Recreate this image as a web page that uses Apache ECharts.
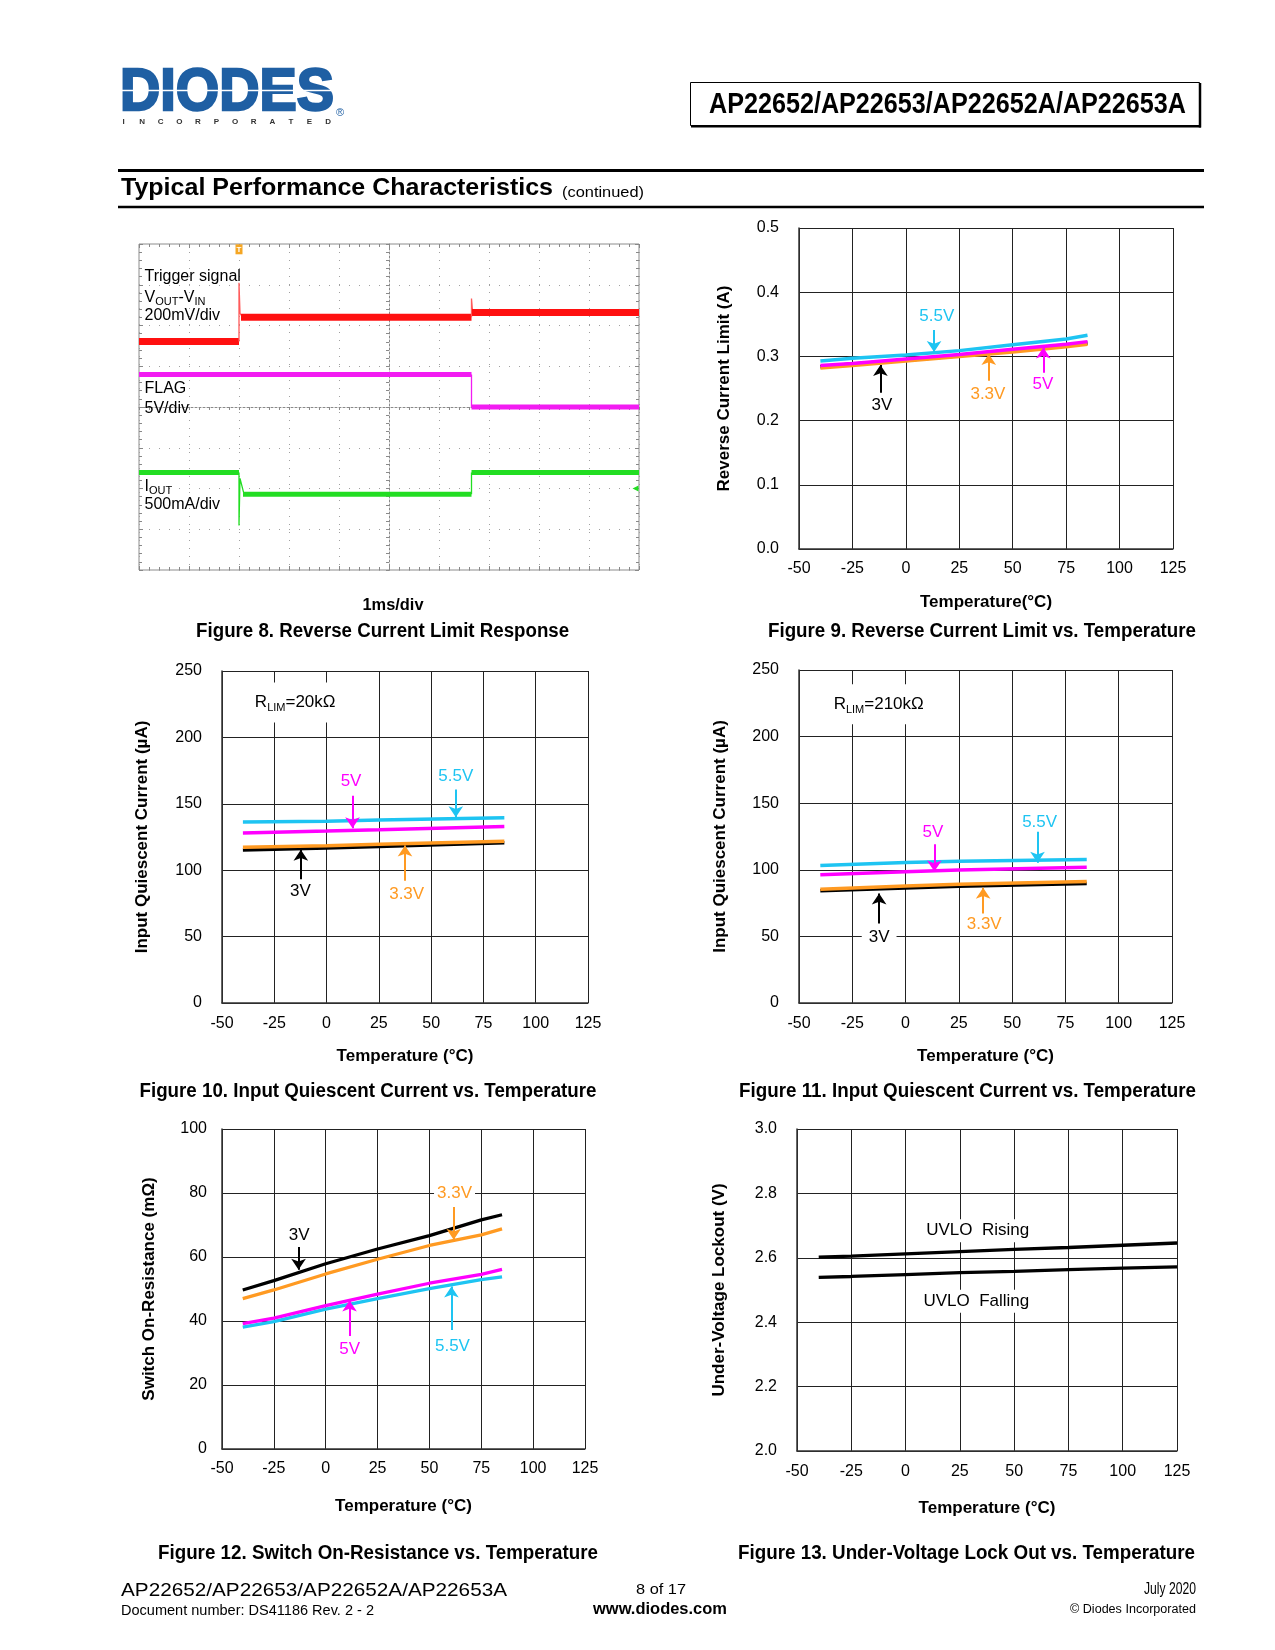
<!DOCTYPE html>
<html><head><meta charset="utf-8">
<script src="https://cdn.jsdelivr.net/npm/echarts@6/dist/echarts.min.js"></script>
<style>html,body{margin:0;padding:0;background:#fff}#c{width:1275px;height:1650px}</style>
</head><body><div id="c"></div>
<script>
// ---------------- DATA ----------------
// Figure 8 (oscilloscope, in divisions: x -5..5 = 10 x 1ms, y -4..4)
const scopeRedLevel1 = [[-5, 1.61], [-3, 1.61]];
const scopeRedEdge1  = [[-3, 1.61], [-3, 3.05], [-2.98, 2.30], [-2.94, 2.22]];
const scopeRedLevel2 = [[-2.96, 2.20], [1.65, 2.20]];
const scopeRedEdge2  = [[1.65, 2.20], [1.65, 2.66], [1.67, 2.36]];
const scopeRedLevel3 = [[1.66, 2.32], [5, 2.32]];
const scopeFlagLevel1 = [[-5, 0.80], [1.65, 0.80]];
const scopeFlagEdge   = [[1.65, 0.80], [1.65, 0.0]];
const scopeFlagLevel2 = [[1.65, 0.0], [5, 0.0]];
const scopeIoutLevel1 = [[-5, -1.61], [-3, -1.61]];
const scopeIoutEdge1  = [[-3, -1.61], [-3, -2.91], [-2.98, -1.75], [-2.90, -2.14]];
const scopeIoutLevel2 = [[-2.92, -2.14], [1.65, -2.14]];
const scopeIoutEdge2  = [[1.65, -2.14], [1.65, -1.61]];
const scopeIoutLevel3 = [[1.65, -1.61], [5, -1.61]];

// Figure 9: Reverse current limit (A)
const temps7 = [-40, -25, 0, 25, 50, 75, 85];
const fig9_3V  = [0.284, 0.288, 0.294, 0.301, 0.309, 0.317, 0.321];
const fig9_3V3 = [0.282, 0.286, 0.293, 0.300, 0.307, 0.315, 0.319];
const fig9_5V  = [0.286, 0.289, 0.296, 0.303, 0.311, 0.319, 0.323];
const fig9_5V5 = [0.293, 0.297, 0.302, 0.309, 0.318, 0.327, 0.333];

// Figure 10: Input quiescent current, RLIM = 20k (uA)
const temps4 = [-40, 0, 25, 85];
const fig10_3V  = [115.2, 116.8, 117.8, 120.7];
const fig10_3V3 = [117.2, 118.5, 119.5, 121.8];
const fig10_5V  = [128.0, 129.5, 130.5, 133.0];
const fig10_5V5 = [136.3, 136.8, 137.8, 139.5];

// Figure 11: Input quiescent current, RLIM = 210k (uA)
const fig11_3V  = [84.2, 86.4, 87.6, 89.7];
const fig11_3V3 = [85.4, 87.8, 89.2, 91.2];
const fig11_5V  = [96.2, 98.6, 99.8, 102.0];
const fig11_5V5 = [103.2, 105.5, 106.5, 107.7];

// Figure 12: Switch on-resistance (mOhm)
const fig12_3V  = [49.7, 52.6, 57.9, 62.5, 66.7, 71.6, 73.2];
const fig12_3V3 = [47.0, 49.7, 54.7, 59.3, 63.6, 66.9, 68.8];
const fig12_5V  = [39.2, 40.9, 44.8, 48.4, 51.8, 54.6, 56.1];
const fig12_5V5 = [38.1, 39.8, 43.7, 47.0, 50.1, 52.9, 53.8];

// Figure 13: UVLO (V)
const temps8 = [-40, -25, 0, 25, 50, 75, 100, 125];
const fig13_rising  = [2.602, 2.605, 2.612, 2.619, 2.626, 2.632, 2.639, 2.646];
const fig13_falling = [2.539, 2.542, 2.548, 2.554, 2.558, 2.563, 2.568, 2.572];

// Annotations: label position [temp, value], arrow [temp, from, to]
const fig9Notes = {
  v5v5: {text: '5.5V', at: [14.5, 0.362], arrow: [13.2, 0.341, 0.307]},
  v3:   {text: '3V',   at: [-11.2, 0.224], arrow: [-11.9, 0.2435, 0.2866]},
  v3v3: {text: '3.3V', at: [38.4, 0.241], arrow: [38.8, 0.262, 0.3037]},
  v5:   {text: '5V',   at: [64.1, 0.257], arrow: [64.3, 0.2746, 0.314]}
};
const fig10Notes = {
  v5:   {text: '5V',   at: [11.7, 166.6], arrow: [12.4, 156, 131.5]},
  v5v5: {text: '5.5V', at: [61.8, 171], arrow: [61.8, 160.8, 139.8]},
  v3:   {text: '3V',   at: [-12.5, 83.9], arrow: [-12.3, 93.2, 115.4]},
  v3v3: {text: '3.3V', at: [38.3, 81.9], arrow: [37.5, 92, 118.6]}
};
const fig11Notes = {
  v5:   {text: '5V',   at: [12.8, 127.8], arrow: [13.5, 119.2, 98.8]},
  v5v5: {text: '5.5V', at: [62.9, 136], arrow: [61.9, 128.5, 105.2]},
  v3:   {text: '3V',   at: [-12.4, 49.6], arrow: [-12.4, 59.6, 82.2], bg: [1, 7]},
  v3v3: {text: '3.3V', at: [36.9, 59.1], arrow: [36.4, 67.1, 86.6]}
};
const fig12Notes = {
  v3:   {text: '3V',   at: [-12.8, 66.7], arrow: [-13.1, 63.1, 56.0]},
  v3v3: {text: '3.3V', at: [62.1, 79.8], arrow: [61.7, 75.6, 65.4], bg: [1, 3]},
  v5:   {text: '5V',   at: [11.5, 31.3], arrow: [11.5, 35.3, 46.4]},
  v5v5: {text: '5.5V', at: [61.1, 32.2], arrow: [60.6, 37.2, 50.8]}
};
const fig10Rlim = {text: '{n|R}{s|LIM}{n|=20kΩ}', at: [-15, 226.2]};
const fig11Rlim = {text: '{n|R}{s|LIM}{n|=210kΩ}', at: [-12.6, 224.2]};
const fig13Notes = [
  {text: 'UVLO  Rising', at: [33.2, 2.684]},
  {text: 'UVLO  Falling', at: [32.6, 2.465]}
];

// ---------------- STYLE ----------------
const FONT = '"Liberation Sans", Arial, Helvetica, sans-serif';
const CYAN = '#1EC4F2', MAG = '#FF00FF', ORG = '#FF9A22', BLK = '#000000';
const S_RED = '#FF1010', S_MAG = '#F21CF2', S_GRN = '#22DD22';

const chart = echarts.init(document.getElementById('c'), null, {renderer: 'canvas', width: 1275, height: 1650});
const zip = (xs, ys) => xs.map((x, i) => [x, ys[i]]);

function line(ai, data, color, width, extra) {
  return Object.assign({
    type: 'line', xAxisIndex: ai, yAxisIndex: ai, data: data,
    symbol: 'none', showSymbol: false, silent: true, animation: false,
    lineStyle: {color: color, width: width}, itemStyle: {color: color}, z: 3
  }, extra || {});
}
function withNote(series, note, color) {
  if (!note) return series;
  if (note.arrow) {
    series.markLine = {
      silent: true, animation: false, symbol: ['none', 'arrow'], symbolSize: 11,
      label: {show: false}, lineStyle: {color: color, width: 2, type: 'solid'},
      data: [[{coord: [note.arrow[0], note.arrow[1]]}, {coord: [note.arrow[0], note.arrow[2]]}]]
    };
  }
  series.markPoint = {
    silent: true, animation: false, symbol: 'circle', symbolSize: 1,
    itemStyle: {color: 'rgba(0,0,0,0)'},
    data: [{coord: note.at, label: {show: true, position: 'inside', formatter: note.text, color: color,
      fontSize: 17, fontFamily: FONT, backgroundColor: note.bg ? '#fff' : 'transparent', padding: note.bg || 0}}]
  };
  return series;
}
function tAxis(gi, name, gap, margin) {
  return {type: 'value', gridIndex: gi, min: -50, max: 125, interval: 25,
    name: name, nameLocation: 'middle', nameGap: gap,
    nameTextStyle: {fontFamily: FONT, fontWeight: 'bold', fontSize: 17, color: '#000'},
    axisLine: {show: true, onZero: false, lineStyle: {color: '#333', width: 1.5}},
    axisTick: {show: false},
    axisLabel: {fontFamily: FONT, fontSize: 16, color: '#000', margin: margin},
    splitLine: {show: true, lineStyle: {color: '#222', width: 1}}};
}
function vAxis(gi, min, max, interval, name, gap, margin, digits) {
  return {type: 'value', gridIndex: gi, min: min, max: max, interval: interval,
    name: name, nameLocation: 'middle', nameGap: gap,
    nameTextStyle: {fontFamily: FONT, fontWeight: 'bold', fontSize: 17, color: '#000'},
    axisLine: {show: true, onZero: false, lineStyle: {color: '#333', width: 1.5}},
    axisTick: {show: false},
    axisLabel: {fontFamily: FONT, fontSize: 16, color: '#000', margin: margin,
      formatter: v => digits ? Number(v).toFixed(digits) : String(Math.round(v))},
    splitLine: {show: true, lineStyle: {color: '#222', width: 1}}};
}
const scopeTick = {show: true, inside: true, length: 4, lineStyle: {color: '#888', width: 1}};
const scopeMinor = {show: true, splitNumber: 5, length: 3, lineStyle: {color: '#888', width: 1}};
function scopeBorderAxis(pos, isX) {
  return {type: 'value', gridIndex: 1, position: pos, min: isX ? -5 : -4, max: isX ? 5 : 4, interval: 1,
    axisLine: {show: false, onZero: false}, axisTick: scopeTick, minorTick: scopeMinor,
    axisLabel: {show: false}, splitLine: {show: false}};
}

// ---------------- TEXT HELPERS ----------------
const mctx = document.createElement('canvas').getContext('2d');
function txt(text, x, y, size, weight, align, targetW, color, extraStyle) {
  const font = weight + ' ' + size + 'px ' + FONT;
  mctx.font = font;
  const w = mctx.measureText(text).width;
  const sx = targetW ? targetW / w : 1;
  return {type: 'text', x: x, y: y, scaleX: sx, silent: true, z: 10,
    style: Object.assign({text: text, font: font, fill: color || '#000',
      textAlign: align, align: align, textVerticalAlign: 'middle', verticalAlign: 'middle'}, extraStyle || {})};
}
function hline(x1, x2, y, w, color) {
  return {type: 'line', silent: true, z: 10, shape: {x1: x1, y1: y, x2: x2, y2: y}, style: {stroke: color || '#000', lineWidth: w}};
}
function vline(x, y1, y2, w, color) {
  return {type: 'line', silent: true, z: 10, shape: {x1: x, y1: y1, x2: x, y2: y2}, style: {stroke: color || '#000', lineWidth: w}};
}

const graphics = [];
// Logo
graphics.push(txt('DIODES', 120, 93, 60, 'bold', 'left', 214, '#1F5FA3', {stroke: '#1F5FA3', lineWidth: 2.5}));
graphics.push(hline(118, 338, 90.5, 1.3, '#ffffff'));
'INCORPORATED'.split('').forEach((ch, i) => graphics.push(txt(ch, 123.5 + i * 18.6, 122, 8, 'bold', 'center', null, '#333333')));
graphics.push(txt('®', 340, 113, 11, 'normal', 'center', null, '#1F5FA3'));
// Title box
graphics.push({type: 'rect', silent: true, z: 10, shape: {x: 690.5, y: 82.5, width: 509, height: 43}, style: {fill: 'none', stroke: '#000', lineWidth: 1}});
graphics.push(vline(1200, 83, 127.5, 2.5));
graphics.push(hline(691, 1201, 126.3, 2.5));
graphics.push(txt('AP22652/AP22653/AP22652A/AP22653A', 947.5, 104.5, 30, 'bold', 'center', 477));
// Section header
graphics.push(hline(118, 1204, 170.5, 3));
graphics.push(hline(118, 1204, 207, 2.5));
graphics.push(txt('Typical Performance Characteristics', 121, 189, 23, 'bold', 'left', 432));
graphics.push(txt('(continued)', 562, 192.5, 15, 'normal', 'left', 82));
// Captions
graphics.push(txt('1ms/div', 393, 605, 17, 'bold', 'center', 61));
graphics.push(txt('Figure 8. Reverse Current Limit Response', 382.6, 631, 20, 'bold', 'center', 373));
graphics.push(txt('Figure 9. Reverse Current Limit vs. Temperature', 982, 631, 20, 'bold', 'center', 428));
graphics.push(txt('Figure 10. Input Quiescent Current vs. Temperature', 368, 1091, 20, 'bold', 'center', 457));
graphics.push(txt('Figure 11. Input Quiescent Current vs. Temperature', 967.5, 1091, 20, 'bold', 'center', 457));
graphics.push(txt('Figure 12. Switch On-Resistance vs. Temperature', 378, 1553, 20, 'bold', 'center', 440));
graphics.push(txt('Figure 13. Under-Voltage Lock Out vs. Temperature', 966.5, 1553, 20, 'bold', 'center', 457));
// Footer
graphics.push(txt('AP22652/AP22653/AP22652A/AP22653A', 121, 1591, 19, 'normal', 'left', 386));
graphics.push(txt('Document number: DS41186 Rev. 2 - 2', 121, 1611, 14, 'normal', 'left', 253));
graphics.push(txt('8 of 17', 661, 1590, 15, 'normal', 'center', 50));
graphics.push(txt('www.diodes.com', 660, 1610, 16, 'bold', 'center', 134));
graphics.push(txt('July 2020', 1196, 1590, 16, 'normal', 'right', 52));
graphics.push(txt('© Diodes Incorporated', 1196, 1610, 12, 'normal', 'right', 126));

// ---------------- SERIES ----------------
const series = [];
// Figure 8 scope traces
const lvl = (d, c, w) => line(0, d, c, w);
const edge = (d, c) => line(0, d, c, 1.3);
const redL1 = lvl(scopeRedLevel1, S_RED, 7);
redL1.markPoint = {silent: true, animation: false, data: [
  {coord: [-3, 3.87], symbol: 'rect', symbolSize: [7, 10], itemStyle: {color: '#F5A623'},
   label: {show: true, position: 'inside', formatter: 'T', color: '#fff', fontSize: 8, fontWeight: 'bold'}}
]};
series.push(redL1, edge(scopeRedEdge1, '#FF5A5A'), lvl(scopeRedLevel2, S_RED, 7), edge(scopeRedEdge2, '#FF5A5A'), lvl(scopeRedLevel3, S_RED, 7));
const flagL1 = lvl(scopeFlagLevel1, S_MAG, 5);
const scopeLabel = (text, at, rich) => ({coord: at, label: {show: true, position: 'right', distance: 0, formatter: text,
  color: '#000', fontSize: 16, fontFamily: FONT, rich: rich}});
const subRich = {n: {fontSize: 16, fontFamily: FONT, color: '#000', lineHeight: 20}, s: {fontSize: 11, fontFamily: FONT, color: '#000', lineHeight: 12, verticalAlign: 'bottom'}};
flagL1.markPoint = {silent: true, animation: false, symbol: 'circle', symbolSize: 1, itemStyle: {color: 'rgba(0,0,0,0)'}, data: [
  scopeLabel('Trigger signal', [-4.9, 3.2]),
  scopeLabel('{n|V}{s|OUT}{n|-V}{s|IN}', [-4.9, 2.68], subRich),
  scopeLabel('200mV/div', [-4.9, 2.24]),
  scopeLabel('FLAG', [-4.9, 0.44]),
  scopeLabel('5V/div', [-4.9, -0.05]),
  scopeLabel('{n|I}{s|OUT}', [-4.9, -1.96], subRich),
  scopeLabel('500mA/div', [-4.9, -2.4])
]};
series.push(flagL1, edge(scopeFlagEdge, S_MAG), lvl(scopeFlagLevel2, S_MAG, 5));
const ioutL3 = lvl(scopeIoutLevel3, S_GRN, 5);
ioutL3.markPoint = {silent: true, animation: false, data: [
  {coord: [4.93, -2.0], symbol: 'triangle', symbolRotate: 90, symbolSize: 6, itemStyle: {color: S_GRN}, label: {show: false}}
]};
series.push(lvl(scopeIoutLevel1, S_GRN, 5), edge(scopeIoutEdge1, S_GRN), lvl(scopeIoutLevel2, S_GRN, 5), edge(scopeIoutEdge2, S_GRN), ioutL3);

// Figure 9 (axis index 3)
series.push(withNote(line(3, zip(temps7, fig9_3V), BLK, 3.5), fig9Notes.v3, BLK));
series.push(withNote(line(3, zip(temps7, fig9_3V3), ORG, 3.5), fig9Notes.v3v3, ORG));
series.push(withNote(line(3, zip(temps7, fig9_5V), MAG, 3.5), fig9Notes.v5, MAG));
series.push(withNote(line(3, zip(temps7, fig9_5V5), CYAN, 3.5), fig9Notes.v5v5, CYAN));
// Figure 10 (axis index 4)
series.push(withNote(line(4, zip(temps4, fig10_3V), BLK, 3.5), fig10Notes.v3, BLK));
series.push(withNote(line(4, zip(temps4, fig10_3V3), ORG, 3.5), fig10Notes.v3v3, ORG));
series.push(withNote(line(4, zip(temps4, fig10_5V), MAG, 3.5), fig10Notes.v5, MAG));
series.push(withNote(line(4, zip(temps4, fig10_5V5), CYAN, 3.5), fig10Notes.v5v5, CYAN));
// Figure 11 (axis index 5)
series.push(withNote(line(5, zip(temps4, fig11_3V), BLK, 3.5), fig11Notes.v3, BLK));
series.push(withNote(line(5, zip(temps4, fig11_3V3), ORG, 3.5), fig11Notes.v3v3, ORG));
series.push(withNote(line(5, zip(temps4, fig11_5V), MAG, 3.5), fig11Notes.v5, MAG));
series.push(withNote(line(5, zip(temps4, fig11_5V5), CYAN, 3.5), fig11Notes.v5v5, CYAN));
// Figure 12 (axis index 6)
series.push(withNote(line(6, zip(temps7, fig12_3V), BLK, 3.3), fig12Notes.v3, BLK));
series.push(withNote(line(6, zip(temps7, fig12_3V3), ORG, 3.3), fig12Notes.v3v3, ORG));
series.push(withNote(line(6, zip(temps7, fig12_5V5), CYAN, 3.3), fig12Notes.v5v5, CYAN));
series.push(withNote(line(6, zip(temps7, fig12_5V), MAG, 3.3), fig12Notes.v5, MAG));
// Figure 13 (axis index 7)
const rising = line(7, zip(temps8, fig13_rising), BLK, 3.3);
rising.markPoint = {silent: true, animation: false, symbol: 'circle', symbolSize: 1, itemStyle: {color: 'rgba(0,0,0,0)'},
  data: fig13Notes.map(n => ({coord: n.at, label: {show: true, position: 'inside', formatter: n.text, color: '#000',
    fontSize: 17, fontFamily: FONT, backgroundColor: '#fff', padding: [3, 2]}}))};
series.push(rising, line(7, zip(temps8, fig13_falling), BLK, 3.3));

// RLIM labels
const rlimRich = {n: {fontSize: 17, fontFamily: FONT, color: '#000', lineHeight: 22}, s: {fontSize: 11, fontFamily: FONT, color: '#000', lineHeight: 12, verticalAlign: 'bottom'}};
[[4, fig10Rlim], [5, fig11Rlim]].forEach(([ai, r]) => {
  series.push({type: 'line', xAxisIndex: ai, yAxisIndex: ai, data: [], silent: true, animation: false,
    markPoint: {silent: true, animation: false, symbol: 'circle', symbolSize: 1, itemStyle: {color: 'rgba(0,0,0,0)'},
      data: [{coord: r.at, label: {show: true, position: 'inside', formatter: r.text, rich: rlimRich,
        backgroundColor: '#fff', padding: [9, 4]}}]}});
});

const option = {
  animation: false,
  backgroundColor: '#ffffff',
  textStyle: {fontFamily: FONT},
  grid: [
    {left: 139, top: 244, width: 500, height: 326, show: true, borderColor: '#8c8c8c', borderWidth: 1, backgroundColor: 'transparent'},
    {left: 139, top: 244, width: 500, height: 326},
    {left: 799, top: 228, width: 374, height: 321},
    {left: 222, top: 671, width: 366, height: 332},
    {left: 799, top: 670, width: 373, height: 333},
    {left: 222, top: 1129, width: 363, height: 320},
    {left: 797, top: 1129, width: 380, height: 322}
  ],
  xAxis: [
    {type: 'value', gridIndex: 0, min: -5, max: 5, interval: 1,
      axisLine: {show: true, onZero: true, lineStyle: {color: '#8a8a8a', width: 1, type: [2, 2]}},
      axisTick: {show: true, length: 3, lineStyle: {color: '#8a8a8a'}},
      minorTick: {show: true, splitNumber: 5, length: 3, lineStyle: {color: '#8a8a8a'}},
      axisLabel: {show: false},
      splitLine: {show: true, lineStyle: {color: '#a0a0a0', width: 1, type: [1, 7]}}},
    scopeBorderAxis('bottom', true),
    scopeBorderAxis('top', true),
    tAxis(2, 'Temperature(°C)', 45, 12),
    tAxis(3, 'Temperature (°C)', 45, 13),
    tAxis(4, 'Temperature (°C)', 45, 13),
    tAxis(5, 'Temperature (°C)', 49, 12),
    tAxis(6, 'Temperature (°C)', 49, 13)
  ],
  yAxis: [
    {type: 'value', gridIndex: 0, min: -4, max: 4, interval: 1,
      axisLine: {show: true, onZero: true, lineStyle: {color: '#8a8a8a', width: 1, type: [2, 2]}},
      axisTick: {show: true, length: 3, lineStyle: {color: '#8a8a8a'}},
      minorTick: {show: true, splitNumber: 5, length: 3, lineStyle: {color: '#8a8a8a'}},
      axisLabel: {show: false},
      splitLine: {show: true, lineStyle: {color: '#a0a0a0', width: 1, type: [1, 9]}}},
    scopeBorderAxis('left', false),
    scopeBorderAxis('right', false),
    vAxis(2, 0, 0.5, 0.1, 'Reverse Current Limit (A)', 66, 20, 1),
    vAxis(3, 0, 250, 50, 'Input Quiescent Current (µA)', 71, 20, 0),
    vAxis(4, 0, 250, 50, 'Input Quiescent Current (µA)', 70, 20, 0),
    vAxis(5, 0, 100, 20, 'Switch On-Resistance (mΩ)', 64, 15, 0),
    vAxis(6, 2.0, 3.0, 0.2, 'Under-Voltage Lockout (V)', 69, 20, 1)
  ],
  series: series,
  graphic: {elements: graphics}
};
chart.setOption(option);
</script>
</body></html>
